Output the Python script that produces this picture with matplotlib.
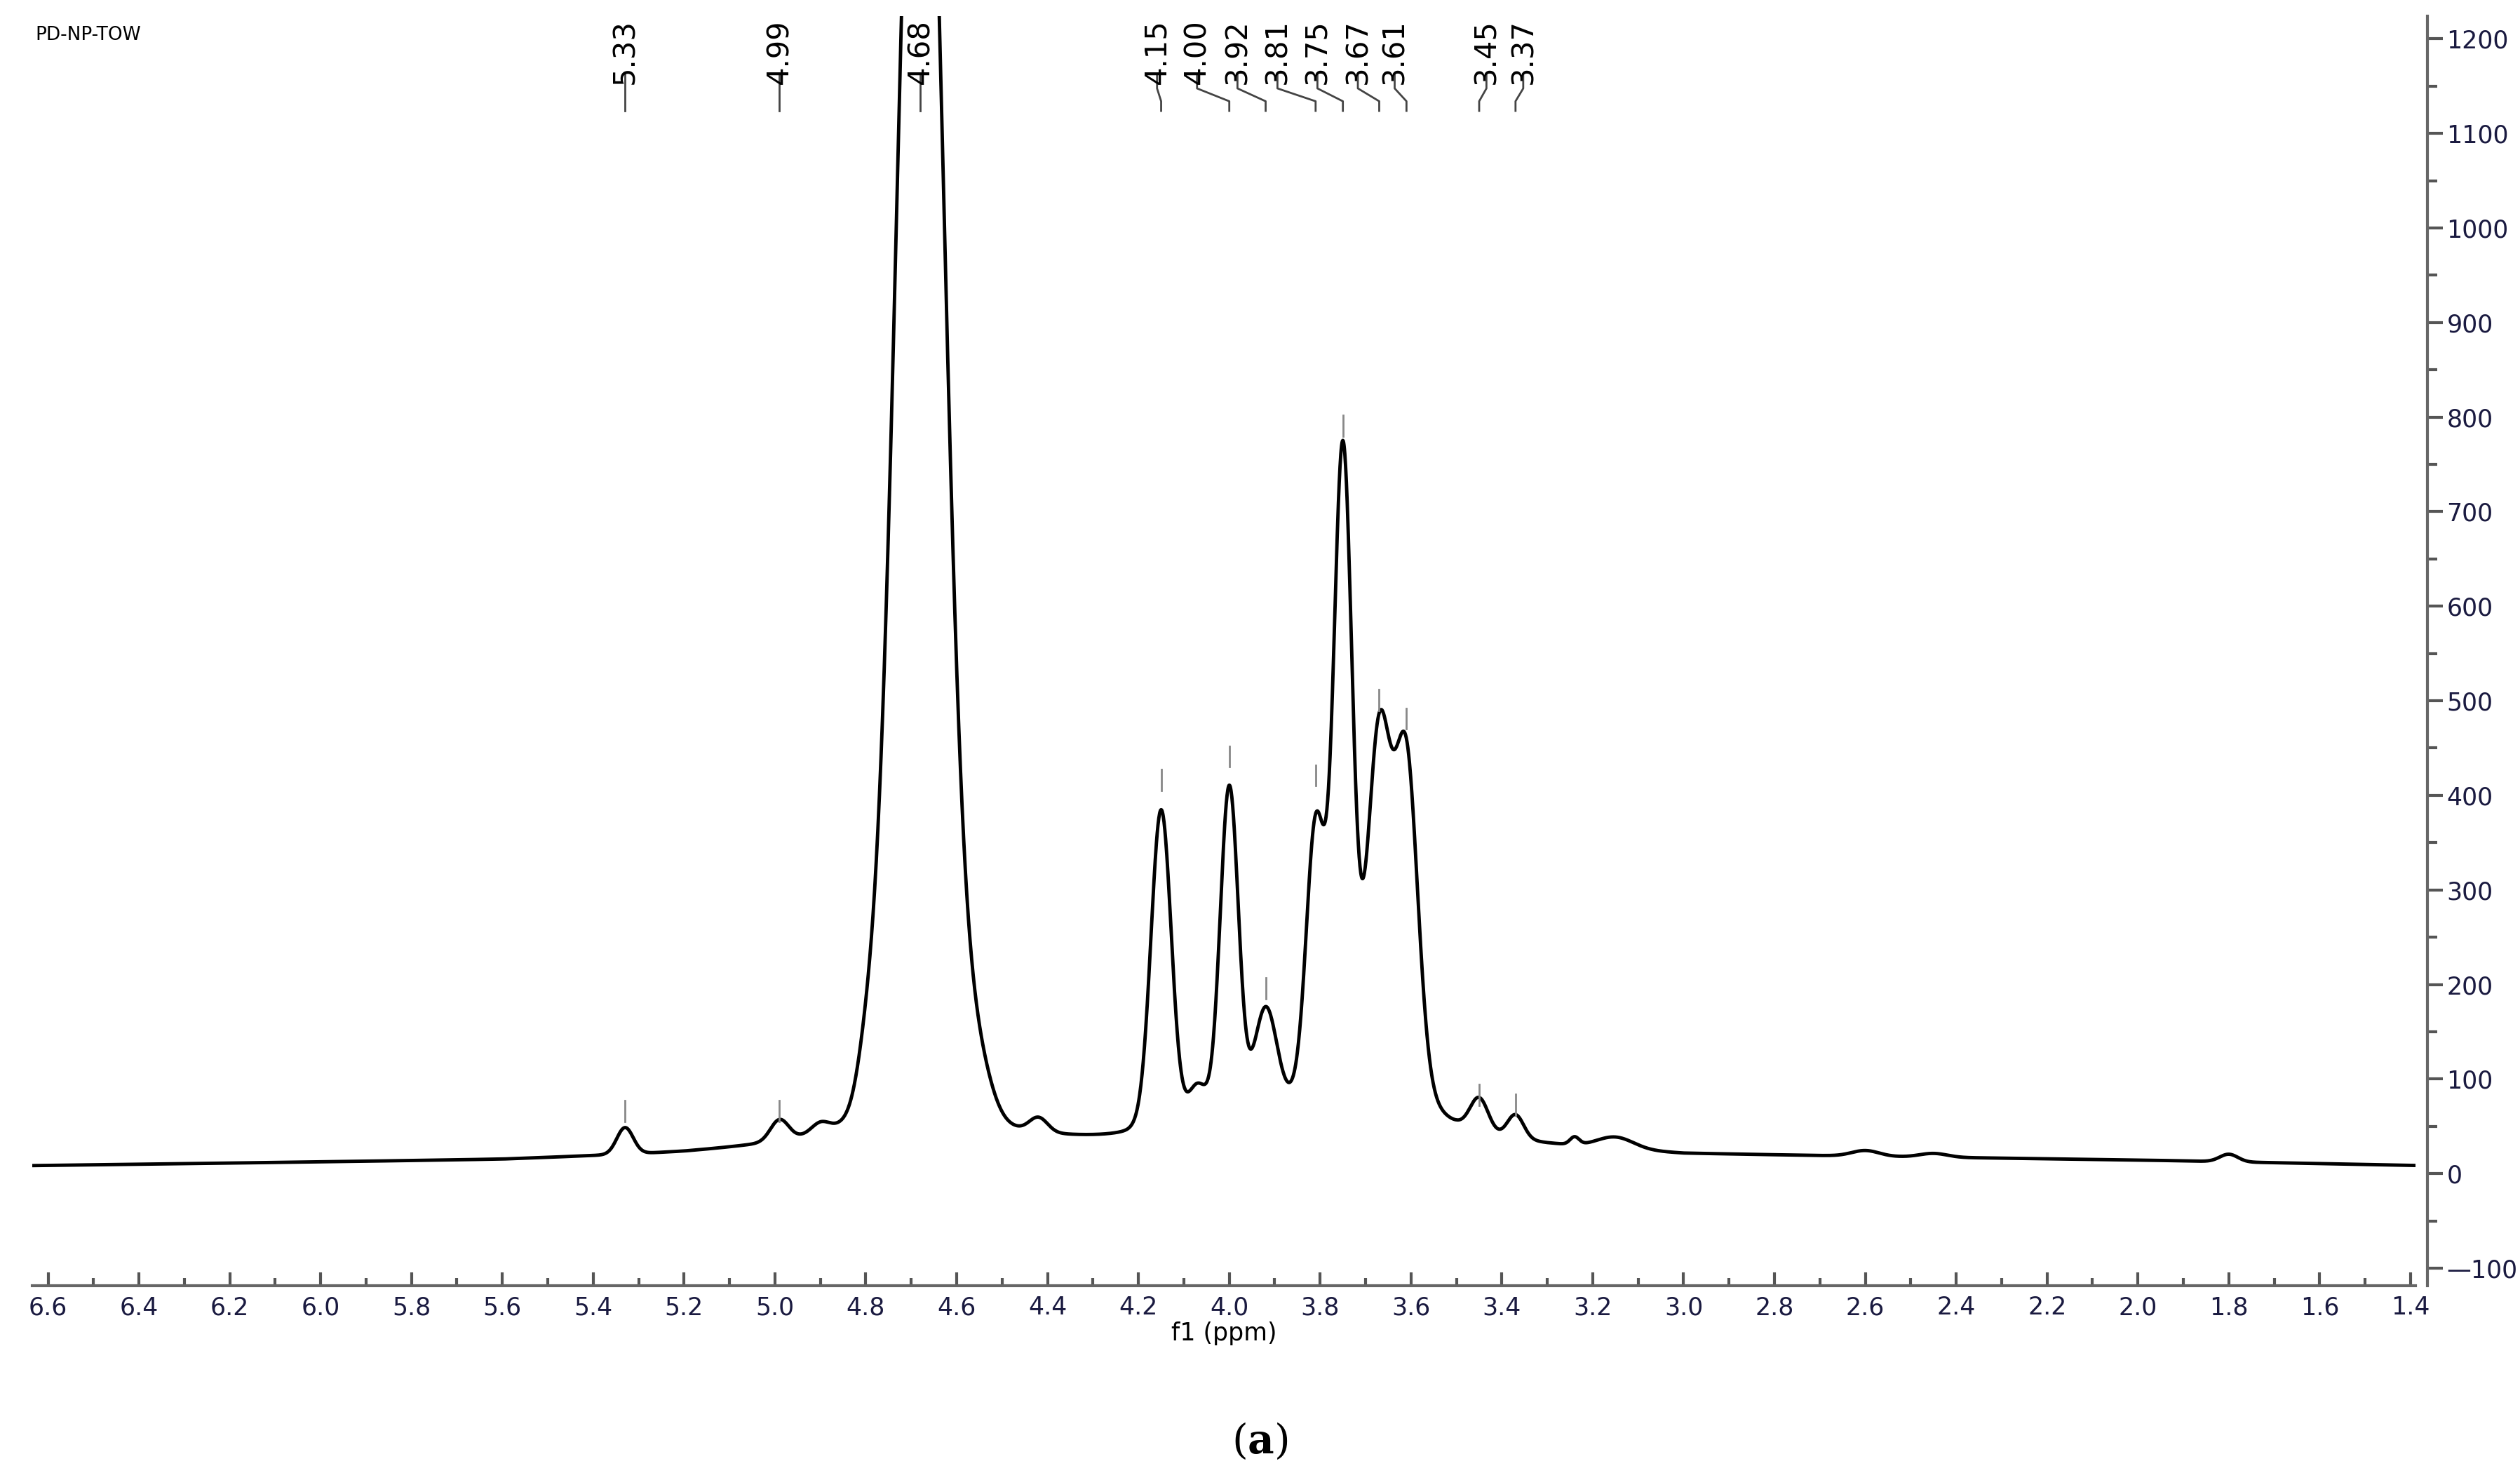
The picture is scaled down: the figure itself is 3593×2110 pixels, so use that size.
import numpy as np
import matplotlib
matplotlib.use("Agg")
import matplotlib.pyplot as plt
from matplotlib.transforms import blended_transform_factory

# Peak model data (ppm, gaussian amp, gaussian sigma, lorentz amp, lorentz hwhm)
peak_ppm   = [5.33, 4.99, 4.90, 4.80, 4.68, 4.68, 4.55, 4.42, 4.15, 4.07, 4.00, 3.92, 3.81, 3.75, 3.67, 3.61, 3.45, 3.37, 3.24, 3.15, 2.60, 2.45, 1.80]
peak_amp   = [28,   22,   10,   30,   1600, 0,    40,   15,   320,  40,   340,  115,  240,  620,  300,  290,  35,   25,   8,    12,   6,    4,    8]
peak_sigma = [0.018,0.02, 0.02, 0.02, 0.05, 0.05, 0.03, 0.02, 0.022,0.02, 0.02, 0.025,0.02, 0.02, 0.025,0.025,0.02, 0.018,0.01, 0.04, 0.03, 0.03, 0.02]
peak_lamp  = [0,    0,    0,    0,    0,    70,   0,    0,    25,   0,    25,   0,    60,   60,   90,   70,   0,    0,    0,    0,    0,    0,    0]
peak_lw    = [0.1,  0.1,  0.1,  0.1,  0.1,  0.12, 0.1,  0.1,  0.05, 0.1,  0.05, 0.1,  0.05, 0.05, 0.05, 0.04, 0.1,  0.1,  0.1,  0.1,  0.1,  0.1,  0.1]
base_ppm = [6.65, 5.6, 5.2, 4.9, 4.4, 4.2, 3.5, 3.3, 3.0, 2.0, 1.35]
base_val = [8,    14,  20,  28,  30,  30,  35,  28,  20,  14,  8]

label_vals = ["5.33", "4.99", "4.68", "4.15", "4.00", "3.92", "3.81", "3.75", "3.67", "3.61", "3.45", "3.37"]
label_pos  = [5.33, 4.99, 4.68, 4.159, 4.071, 3.982, 3.894, 3.806, 3.717, 3.636, 3.434, 3.353]
peak_pos   = [5.33, 4.99, 4.68, 4.15, 4.00, 3.92, 3.81, 3.75, 3.67, 3.61, 3.45, 3.37]
marker_y   = [55, 55, None, 405, 430, 185, 410, 780, 490, 470, 72, 62]

x = np.linspace(6.65, 1.38, 6000)
y = np.interp(x[::-1], base_ppm[::-1], base_val[::-1])[::-1]
for p, a, s, la, lw in zip(peak_ppm, peak_amp, peak_sigma, peak_lamp, peak_lw):
    y = y + a*np.exp(-(x-p)**2/(2*s*s)) + la/(1+((x-p)/lw)**2)

W, H = 1568, 920.8
fig = plt.figure(figsize=(35.93, 21.10), dpi=100)
ax = fig.add_axes([20/W, 1-800/H, (1503-20)/W, 790/H])
ax.plot(x, y, color='black', lw=3.5)
ax.set_xlim(6.635, 1.389)
ax.set_ylim(-118.7, 1224)

for s in ['top', 'left']:
    ax.spines[s].set_visible(False)
ax.spines['right'].set_position(('outward', 12))
for s in ['right', 'bottom']:
    ax.spines[s].set_color('#666666'); ax.spines[s].set_linewidth(3)
ax.yaxis.tick_right()
yt = list(range(-100, 1201, 100))
ax.set_yticks(yt)
ax.set_yticks(np.arange(-50, 1201, 100), minor=True)
ax.set_yticklabels(['\u2014' + str(abs(v)) if v < 0 else str(v) for v in yt])
xt = np.round(np.arange(6.6, 1.39, -0.2), 1)
ax.set_xticks(xt)
ax.set_xticks(np.round(np.arange(6.5, 1.39, -0.2), 1), minor=True)
ax.set_xticklabels([f"{v:.1f}" for v in xt])
ax.tick_params(axis='both', which='both', colors='#555555', labelcolor='#1a1a40', labelsize=25, width=3)
ax.tick_params(axis='y', which='major', length=16, pad=4)
ax.tick_params(axis='y', which='minor', length=10)
ax.tick_params(axis='x', which='major', length=14, direction='in', pad=10)
ax.tick_params(axis='x', which='minor', length=8, direction='in')
ax.set_xlabel('f1 (ppm)', fontsize=25, labelpad=2)

fig.text(22/W, 1-22/H, 'PD-NP-TOW', fontsize=19, va='center', ha='left')
plt.rcParams['mathtext.fontset'] = 'dejavuserif'
fig.text(0.5, 1-897/H, r'($\mathbf{a}$)', fontsize=42, ha='center', va='center', family='DejaVu Serif')

tr = blended_transform_factory(ax.transData, ax.transAxes)
def ya(py):
    return 1-(py-10)/790
for lab, lp, pp, my in zip(label_vals, label_pos, peak_pos, marker_y):
    ax.text(lp, ya(12), lab, rotation=90, ha='center', va='top', fontsize=30,
            family=['Liberation Sans Narrow', 'DejaVu Sans'], transform=tr, color='black')
    ax.plot([lp, lp, pp, pp], [ya(46), ya(55), ya(63), ya(69)], color='#444444', lw=2, transform=tr, clip_on=False)
    if my is not None:
        ax.plot([pp, pp], [my, my+22], color='#888888', lw=2)

fig.savefig('out.png', dpi=100, facecolor='white')
